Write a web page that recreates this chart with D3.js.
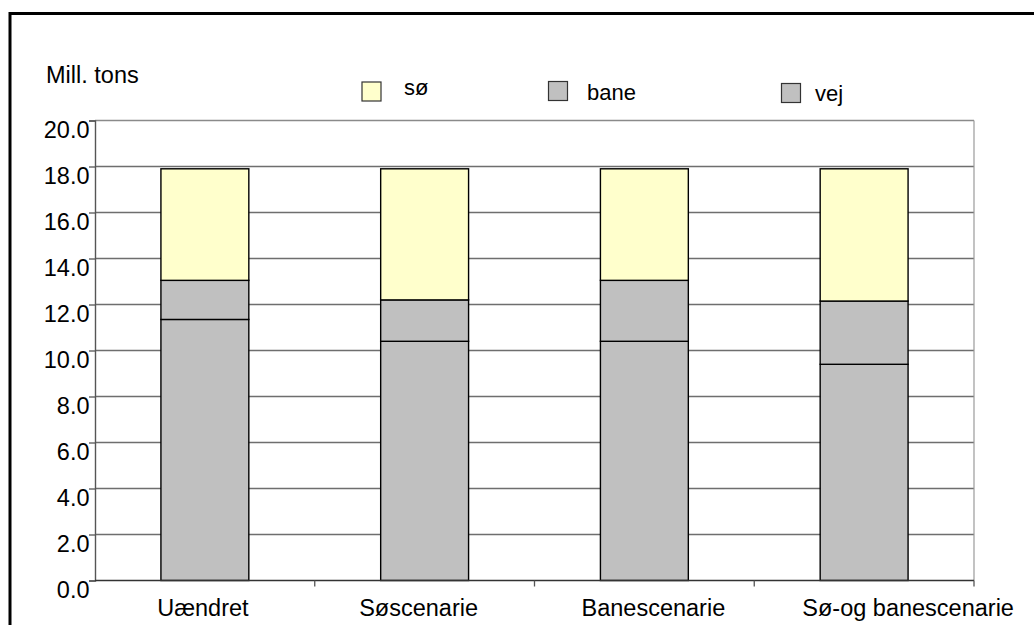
<!DOCTYPE html>
<html>
<head>
<meta charset="utf-8">
<script src="https://cdn.jsdelivr.net/npm/d3@7"></script>
<style>
  html, body { margin: 0; padding: 0; background: #fff; }
  svg { display: block; font-family: "Liberation Sans", Arial, sans-serif; }
</style>
</head>
<body>
<svg id="chart" width="1034" height="625"></svg>
<script>
// Freight volumes per scenario, million tons, stacked bottom-up: vej, bane, sø
const categories = ["Uændret", "Søscenarie", "Banescenarie", "Sø-og banescenarie"];
const vej  = [11.35, 10.4, 10.4, 9.4];
const bane = [1.7, 1.8, 2.65, 2.75];
const so   = [4.85, 5.7, 4.85, 5.75];
const seriesKeys = ["vej", "bane", "sø"];
const legendLabels = ["sø", "bane", "vej"];
const yTicks = [0, 2, 4, 6, 8, 10, 12, 14, 16, 18, 20];
const yUnit = "Mill. tons";

const colors = { "vej": "#c0c0c0", "bane": "#c0c0c0", "sø": "#ffffcc" };

const svg = d3.select("#chart");
const plot = { left: 95, right: 974, top: 120.5, bottom: 580.5 };

// outer frame
svg.append("rect")
  .attr("x", 10).attr("y", 13.5)
  .attr("width", 1100).attr("height", 700)
  .attr("fill", "none").attr("stroke", "#000").attr("stroke-width", 3);

const rows = categories.map((c, i) => ({ cat: c, "vej": vej[i], "bane": bane[i], "sø": so[i] }));
const stacked = d3.stack().keys(seriesKeys)(rows);

const x = d3.scaleBand().domain(categories)
  .range([plot.left, plot.right]).paddingInner(0.6).paddingOuter(0.3);
const xCell = d3.scaleBand().domain(categories).range([plot.left, plot.right]).padding(0);
const y = d3.scaleLinear().domain([0, 20]).range([plot.bottom, plot.top]);

// horizontal gridlines
svg.append("g").selectAll("line").data(yTicks.filter(t => t > 0)).join("line")
  .attr("x1", plot.left).attr("x2", plot.right)
  .attr("y1", d => y(d)).attr("y2", d => y(d))
  .attr("stroke", d => d === 20 ? "#8a8a8a" : "#6e6e6e").attr("stroke-width", 1.3);

// right frame edge
svg.append("line")
  .attr("x1", plot.right).attr("x2", plot.right)
  .attr("y1", plot.top).attr("y2", plot.bottom)
  .attr("stroke", "#9a9a9a").attr("stroke-width", 1.2);

// bars
svg.append("g").selectAll("g").data(stacked).join("g")
  .attr("fill", d => colors[d.key])
  .selectAll("rect").data(d => d).join("rect")
  .attr("x", d => x(d.data.cat))
  .attr("width", x.bandwidth())
  .attr("y", d => y(d[1]))
  .attr("height", d => y(d[0]) - y(d[1]))
  .attr("stroke", "#000").attr("stroke-width", 1.4);

// y axis
const yAxis = d3.axisLeft(y).tickValues(yTicks).tickFormat(d3.format(".1f"))
  .tickSize(6).tickPadding(3);
const gy = svg.append("g").attr("transform", `translate(${plot.left},0)`).call(yAxis);
gy.select(".domain").attr("stroke", "#555").attr("stroke-width", 1.4);
gy.selectAll(".tick line").attr("stroke", "#555").attr("stroke-width", 1.3);
gy.selectAll(".tick text")
  .attr("font-size", 23.5).attr("fill", "#000")
  .attr("font-family", "Liberation Sans, Arial, sans-serif")
  .attr("dy", "0.72em").attr("dx", 3.5);

// x axis baseline and category separators
svg.append("line")
  .attr("x1", plot.left).attr("x2", plot.right)
  .attr("y1", plot.bottom).attr("y2", plot.bottom)
  .attr("stroke", "#333").attr("stroke-width", 1.4);
svg.append("g").selectAll("line").data(categories).join("line")
  .attr("x1", d => xCell(d) + xCell.bandwidth()).attr("x2", d => xCell(d) + xCell.bandwidth())
  .attr("y1", plot.bottom).attr("y2", plot.bottom + 6)
  .attr("stroke", "#555").attr("stroke-width", 1.3);

// category labels, nudged horizontally where the layout spreads them
const labelShift = [-2, -6, 9, 44];
svg.append("g").selectAll("text").data(categories).join("text")
  .attr("x", (d, i) => x(d) + x.bandwidth() / 2 + labelShift[i])
  .attr("y", 615.5)
  .attr("text-anchor", "middle")
  .attr("font-size", 23.5)
  .text(d => d);

// unit label
svg.append("text").attr("x", 46).attr("y", 83).attr("font-size", 23.5).text(yUnit);

// legend
const legendPos = [
  { sx: 362, sy: 82, tx: 404, ty: 94.5 },
  { sx: 548.5, sy: 81.5, tx: 587, ty: 99.5 },
  { sx: 781.5, sy: 83.5, tx: 815, ty: 101 }
];
const lg = svg.append("g").selectAll("g").data(legendLabels).join("g");
lg.append("rect")
  .attr("x", (d, i) => legendPos[i].sx).attr("y", (d, i) => legendPos[i].sy)
  .attr("width", 19).attr("height", 19)
  .attr("fill", d => colors[d]).attr("stroke", "#333").attr("stroke-width", 1.2);
lg.append("text")
  .attr("x", (d, i) => legendPos[i].tx).attr("y", (d, i) => legendPos[i].ty)
  .attr("font-size", 22).text(d => d);
</script>
</body>
</html>
